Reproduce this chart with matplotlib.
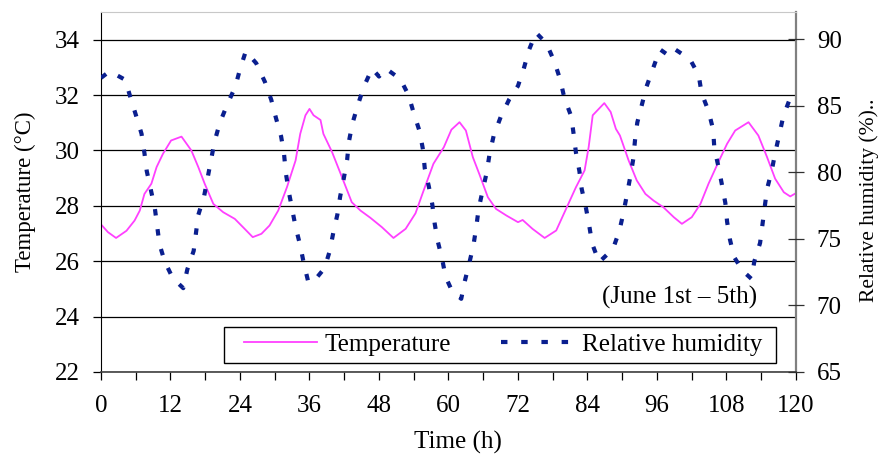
"""Temperature and relative humidity over five days (June 1st - 5th)."""

import matplotlib
matplotlib.use("Agg")
import matplotlib.pyplot as plt
from matplotlib.patches import Rectangle
from matplotlib.ticker import MultipleLocator

plt.rcParams["font.family"] = ["Liberation Serif", "DejaVu Serif"]

# temperature readings (h, degC)
temp_time = [0, 1.2, 2.6, 4.4, 5.8, 6.7, 7.5, 8.7, 9.6, 10.7, 12.1, 13.9, 15.6, 16.8,
             17.9, 19.4, 21.1, 23.1, 24.8, 26.2, 27.7, 29.1, 30.6, 32.1, 33.6, 34.4,
             35.3, 36.0, 36.7, 37.9, 38.4, 39.9, 41.6, 43.3, 44.8, 46.5, 48.5, 50.5,
             52.6, 54.3, 55.7, 57.4, 59.2, 60.5, 61.9, 63.0, 64.2, 65.3, 66.8, 68.2,
             70.0, 72.0, 72.8, 74.5, 76.6, 78.6, 80.3, 82.0, 83.5, 84.2, 84.9, 86.9,
             88.0, 88.9, 89.6, 91.1, 92.5, 94.0, 95.4, 97.1, 98.9, 100.3, 102.0, 103.5,
             104.9, 106.6, 108.1, 109.5, 111.8, 113.5, 115.0, 116.4, 117.9, 119.0, 120]
temperature = [27.33, 27.05, 26.84, 27.1, 27.47, 27.83, 28.43, 28.8, 29.4, 29.88, 30.36,
               30.5, 30.0, 29.4, 28.8, 28.07, 27.77, 27.53, 27.17, 26.87, 26.99, 27.29,
               27.83, 28.67, 29.64, 30.6, 31.27, 31.5, 31.27, 31.1, 30.6, 29.94, 29.04,
               28.13, 27.83, 27.57, 27.23, 26.84, 27.17, 27.73, 28.55, 29.52, 30.12,
               30.75, 31.02, 30.72, 29.76, 29.16, 28.31, 27.89, 27.65, 27.41, 27.49,
               27.17, 26.84, 27.11, 27.89, 28.67, 29.28, 30.12, 31.27, 31.71, 31.39,
               30.78, 30.54, 29.64, 28.92, 28.43, 28.19, 27.95, 27.59, 27.35, 27.59,
               28.07, 28.8, 29.58, 30.24, 30.72, 31.02, 30.54, 29.76, 28.98, 28.49,
               28.34, 28.46]

# relative humidity readings (h, %)
rh_time = [0, 1.5, 4.2, 5.1, 6.1, 7.0, 7.5, 7.9, 8.6, 9.3, 9.7, 10.1, 11.0, 12.4, 14.2,
           14.9, 16.0, 16.8, 17.8, 19.0, 19.6, 20.5, 21.8, 23.2, 24.0, 25.0, 26.8, 28.3,
           29.4, 30.2, 31.1, 31.6, 31.9, 32.4, 33.0, 33.6, 34.4, 35.0, 35.8, 36.7, 38.6,
           39.5, 40.1, 40.8, 41.3, 41.9, 42.5, 42.8, 43.4, 44.3, 45.4, 46.8, 48.0, 49.2,
           51.7, 53.1, 54.0, 55.0, 55.6, 55.9, 56.6, 57.2, 57.6, 58.1, 58.9, 59.5, 60.6,
           62.2, 62.8, 63.6, 64.3, 64.8, 65.2, 65.9, 66.6, 67.1, 67.8, 69.0, 70.5, 72.0,
           73.0, 73.9, 75.1, 76.9, 78.3, 79.3, 80.0, 81.2, 81.6, 82.0, 82.6, 83.0, 83.7,
           84.3, 84.8, 86.0, 88.4, 89.5, 90.2, 90.8, 91.4, 91.9, 92.2, 92.6, 93.4, 94.2,
           95.4, 96.5, 98.1, 99.1, 101.7, 103.2, 103.7, 104.9, 105.7, 105.9, 106.6,
           107.2, 107.8, 108.1, 108.6, 109.3, 110.8, 112.3, 112.8, 113.8, 114.6, 115.0,
           115.8, 116.4, 117.1, 117.8, 119.0, 120]
humidity = [87.1, 87.6, 86.95, 85.6, 84.2, 82.9, 81.45, 80.1, 78.7, 77.3, 75.95, 74.6,
            73.3, 72.05, 71.3, 72.7, 74.1, 76.8, 78.2, 80.95, 82.3, 83.7, 85.1, 86.45,
            87.75, 89.1, 88.2, 86.8, 85.45, 84.1, 82.7, 81.4, 80.0, 78.6, 77.25, 75.9,
            74.5, 73.2, 71.75, 71.8, 72.8, 74.1, 75.45, 76.8, 78.2, 79.5, 80.95, 82.3,
            83.65, 85.0, 86.45, 87.8, 87.2, 87.8, 87.0, 85.8, 84.45, 83.1, 81.7, 80.3,
            78.95, 77.6, 76.2, 74.9, 73.5, 72.15, 71.1, 70.5, 71.8, 73.2, 74.5, 75.9,
            77.25, 78.65, 80.0, 81.4, 82.75, 84.15, 85.5, 86.5, 87.8, 89.2, 90.5, 89.7,
            88.3, 86.95, 85.6, 84.2, 82.9, 81.5, 80.1, 78.75, 77.4, 76.0, 74.65, 73.25,
            74.25, 75.6, 76.95, 78.3, 79.7, 81.0, 82.4, 83.75, 85.1, 86.45, 87.9, 89.25,
            88.75, 89.25, 88.5, 87.3, 85.95, 84.6, 83.2, 81.8, 80.45, 79.1, 77.7, 76.3,
            74.95, 73.65, 72.6, 72.0, 73.3, 74.7, 77.4, 78.75, 80.1, 81.45, 82.8, 84.2,
            85.6, 86.0]

FS = 18

fig = plt.figure(figsize=(8.83, 4.57), dpi=100)
ax = fig.add_axes([0.11438, 0.18600, 0.78709, 0.78775])
ax2 = ax.twinx()

l1, = ax.plot(temp_time, temperature, color="#ff40ff", lw=1.3, label="Temperature")
l2, = ax2.plot(rh_time, humidity, color="#0a1f8f", lw=3.0, dashes=(1.55, 3.3),
               dash_capstyle="butt", label="Relative humidity")

ax.set_xlim(0, 120)
ax.set_ylim(22, 35)
ax2.set_ylim(65, 92.05)

ax.set_xticks(range(0, 121, 12))
ax.xaxis.set_minor_locator(MultipleLocator(6))
ax.set_yticks(range(22, 35, 2))
ax2.set_yticks(range(65, 91, 5))

ax.yaxis.grid(True, color="black", lw=0.9)
ax.set_axisbelow(True)

ax.tick_params(axis="x", which="both", direction="out", length=5.8, width=0.9,
               labelsize=FS, pad=11)
ax.tick_params(axis="y", direction="out", length=5.5, width=0.9, labelsize=FS, pad=10)
ax2.tick_params(axis="y", direction="inout", length=12, width=0.9, labelsize=FS,
                pad=9, color="#303030")

for sp in ax2.spines.values():
    sp.set_visible(False)
ax.spines["left"].set_color("black")
ax.spines["bottom"].set_color("#404040")
ax.spines["bottom"].set_linewidth(1.2)
ax.spines["top"].set_color("#c8c8c8")
ax.spines["right"].set_color("#808080")
ax.spines["right"].set_linewidth(1.6)

ax.set_xlabel("Time (h)", fontsize=FS)
ax.xaxis.set_label_coords(0.514, -0.165)
ax.set_ylabel("Temperature (\u00b0C)", fontsize=16.5)
ax.yaxis.set_label_coords(-0.0935, 0.5)
ax2.set_ylabel("Relative humidity (%)..", fontsize=15.5)
ax2.yaxis.set_label_coords(1.091, 0.478)

ax.text(0.832, 0.207, "(June 1st \u2013 5th)", transform=ax.transAxes,
        ha="center", va="center", fontsize=FS)

# legend box
ax2.add_patch(Rectangle((0.177, 0.025), 0.794, 0.1, transform=ax2.transAxes,
                        facecolor="white", edgecolor="black", lw=1.0, zorder=5))
leg = ax2.legend(handles=[l1, l2], loc="center", bbox_to_anchor=(0.579, 0.075),
                 ncol=2, frameon=False, fontsize=FS, handlelength=2.9,
                 handletextpad=0.32, columnspacing=2.0, borderpad=0.2)
leg.set_zorder(6)

fig.savefig("out.png", dpi=100)
